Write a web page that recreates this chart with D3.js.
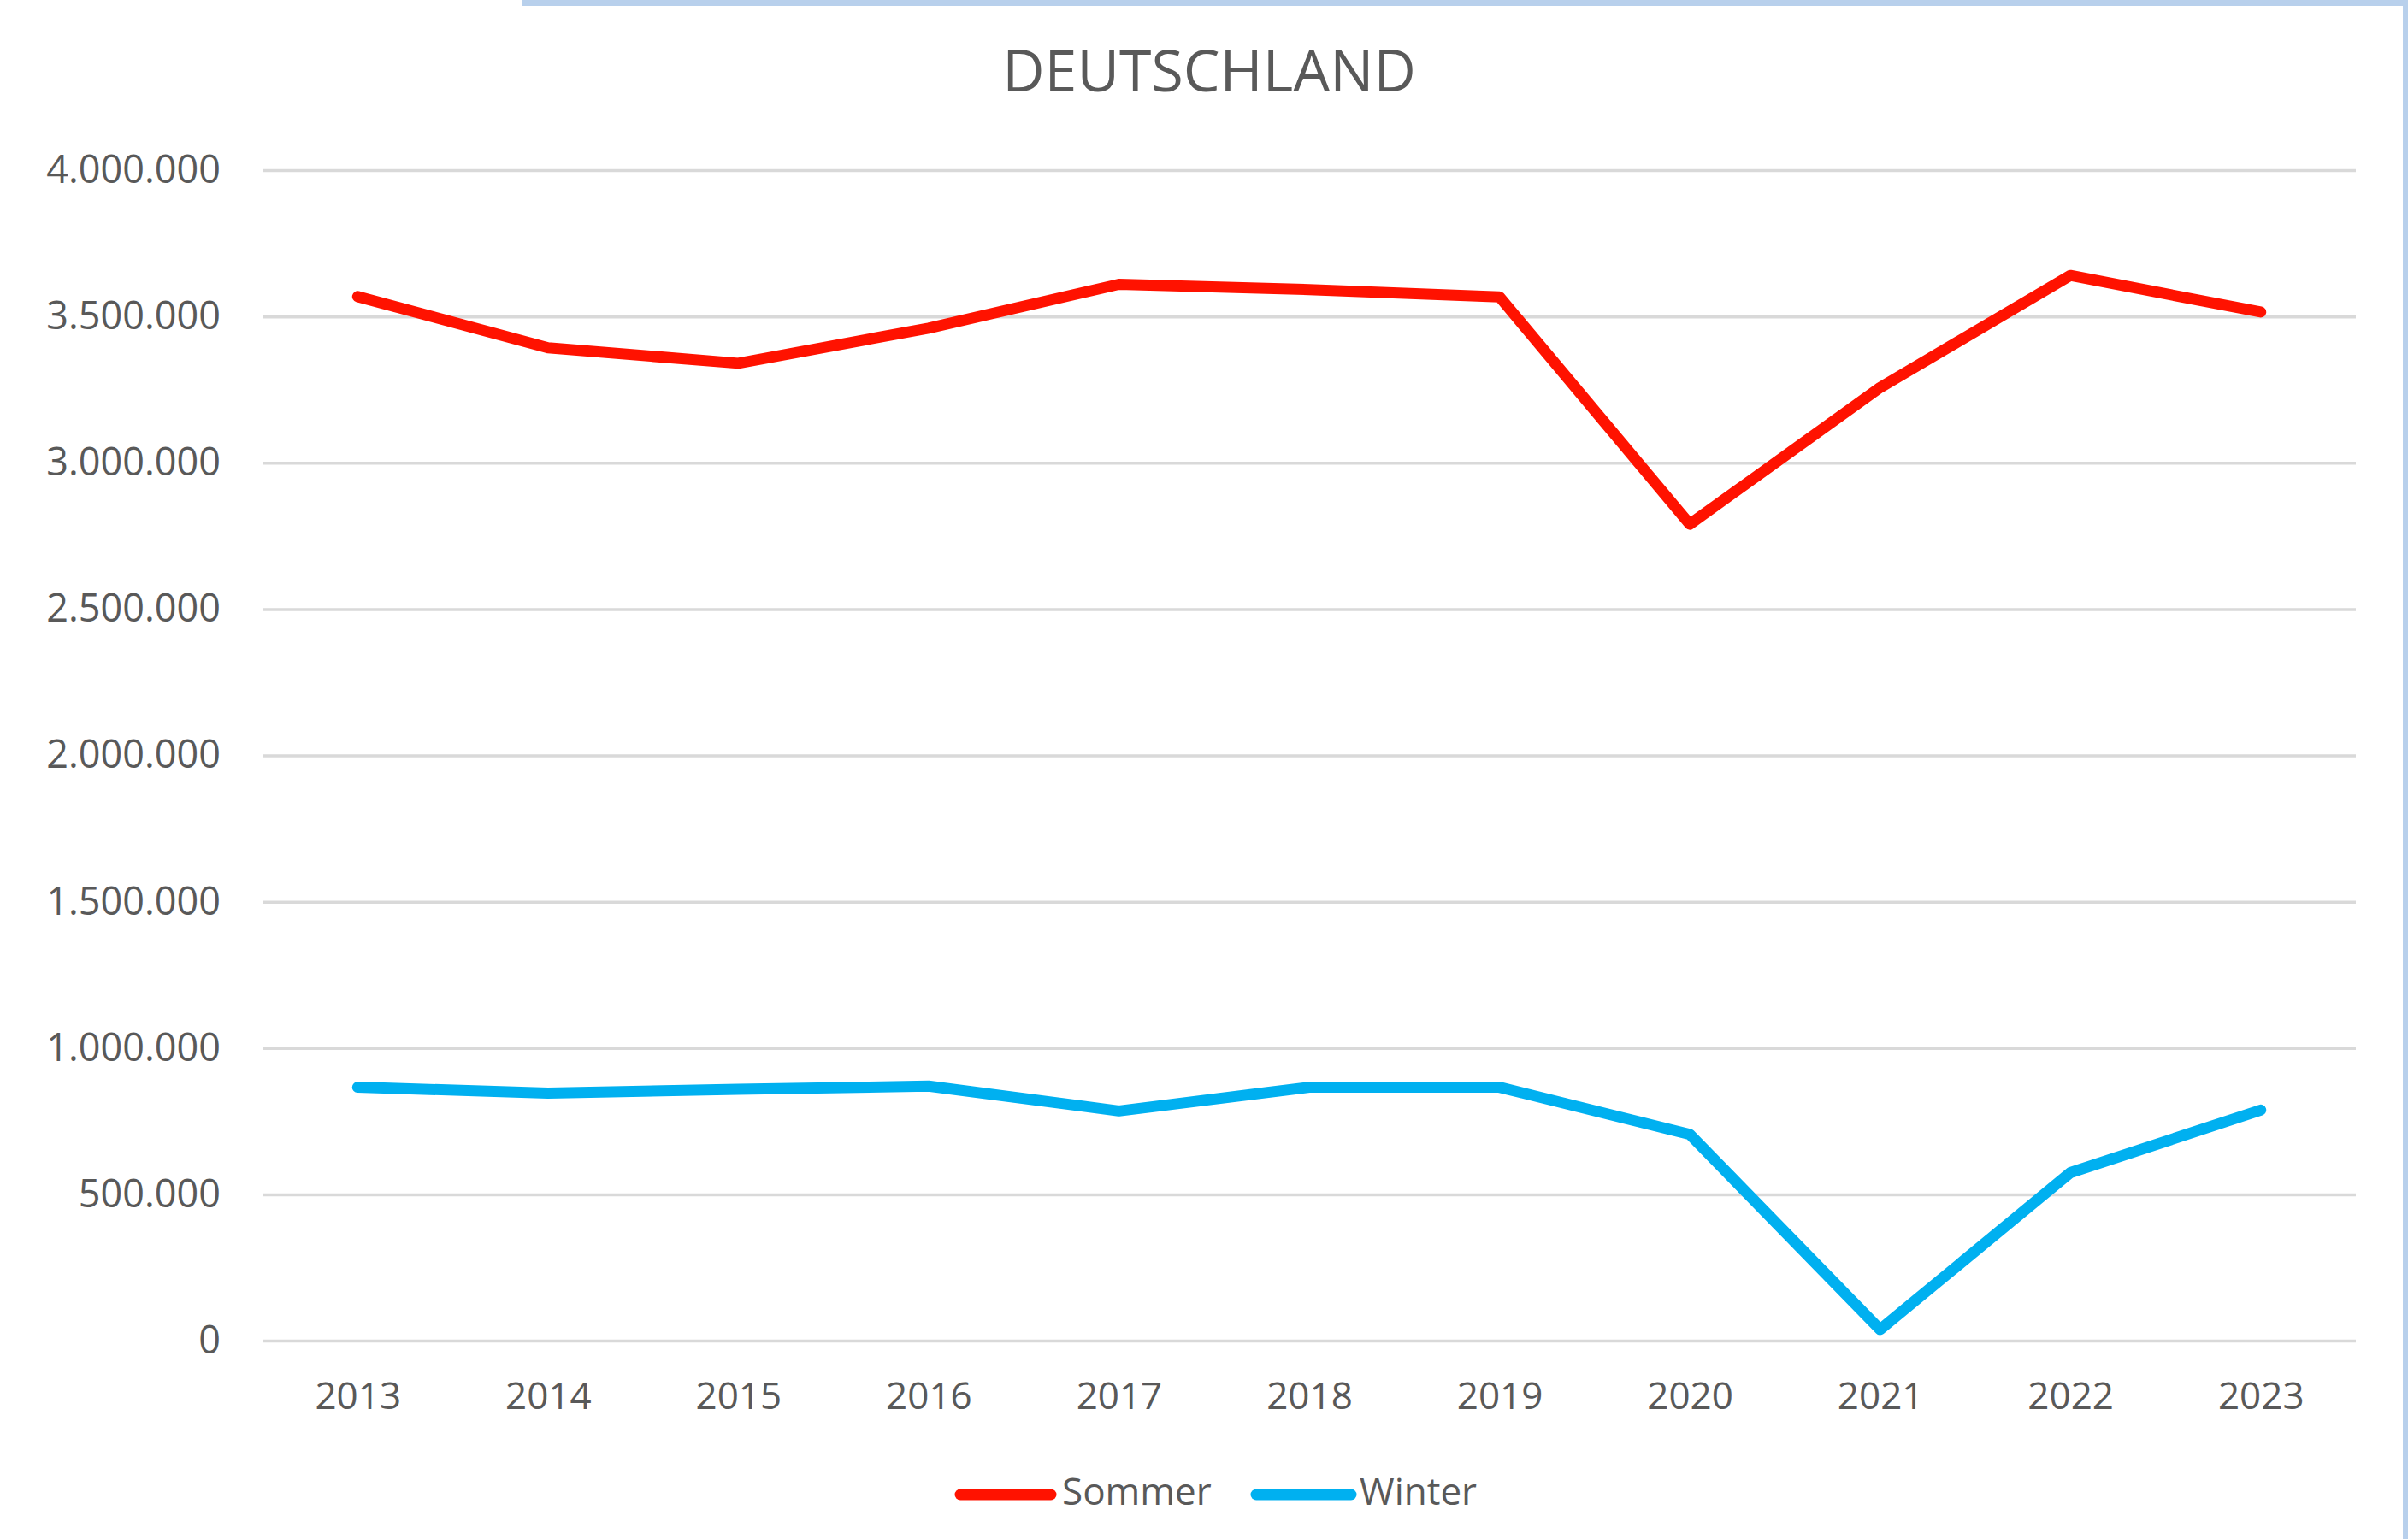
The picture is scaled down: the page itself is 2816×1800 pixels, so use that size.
<!DOCTYPE html>
<html>
<head>
<meta charset="utf-8">
<script src="https://cdn.jsdelivr.net/npm/d3@7"></script>
<style>
  html, body { margin: 0; padding: 0; background: #ffffff; }
  svg { display: block; }
  text { font-family: "Open Sans", sans-serif; fill: #595959; }
</style>
</head>
<body>
<svg id="chart" width="2816" height="1800"></svg>
<script>
// ---- data ----
const years = ["2013","2014","2015","2016","2017","2018","2019","2020","2021","2022","2023"];
const sommer = [3568000, 3393000, 3340000, 3460000, 3610000, 3592000, 3567000, 2790000, 3257000, 3640000, 3515000];
const winter = [866000, 846000, 859000, 870000, 785000, 866000, 866000, 705000, 38000, 574000, 788000];
const seriesNames = ["Sommer", "Winter"];
const seriesColors = ["#ff1200", "#00b0f0"];
const yTicks = [0, 500000, 1000000, 1500000, 2000000, 2500000, 3000000, 3500000, 4000000];
const titleText = "DEUTSCHLAND";

// ---- layout ----
const W = 2816, H = 1800;
const plotLeft = 307, plotRight = 2755, plotTop = 199, plotBottom = 1568;

const svg = d3.select("#chart");

// frame decorations (selection border)
svg.append("rect").attr("x", 610).attr("y", 0).attr("width", W - 610).attr("height", 7).attr("fill", "#b8d0ec");
svg.append("rect").attr("x", 2810).attr("y", 0).attr("width", 6).attr("height", H).attr("fill", "#b8d0ec");

const x = d3.scalePoint().domain(years).range([plotLeft, plotRight]).padding(0.5);
const y = d3.scaleLinear().domain([0, 4000000]).range([plotBottom, plotTop]);

const de = d3.formatLocale({decimal: ",", thousands: ".", grouping: [3], currency: ["", " €"]});
const fmt = de.format(",d");

// y axis with gridlines
const yAxis = svg.append("g")
  .attr("transform", `translate(${plotLeft},0)`)
  .call(d3.axisLeft(y).tickValues(yTicks).tickFormat(fmt).tickSize(-(plotRight - plotLeft)).tickPadding(49));
yAxis.select(".domain").remove();
yAxis.selectAll(".tick line").attr("stroke", "#d9d9d9").attr("stroke-width", 3.5);
yAxis.selectAll(".tick text").attr("font-size", 45).attr("font-family", "'Open Sans', sans-serif").attr("fill", "#595959");

// x axis
const xAxis = svg.append("g")
  .attr("transform", `translate(0,${plotBottom})`)
  .call(d3.axisBottom(x).tickSize(0).tickPadding(49));
xAxis.select(".domain").remove();
xAxis.selectAll(".tick text").attr("font-size", 44).attr("font-family", "'Open Sans', sans-serif").attr("fill", "#595959");

// lines
const line = d3.line().x((d, i) => x(years[i])).y(d => y(d));
[sommer, winter].forEach((vals, k) => {
  svg.append("path")
    .datum(vals)
    .attr("d", line)
    .attr("fill", "none")
    .attr("stroke", seriesColors[k])
    .attr("stroke-width", 13)
    .attr("stroke-linecap", "round")
    .attr("stroke-linejoin", "round");
});

// title
svg.append("text")
  .attr("x", 1414).attr("y", 107)
  .attr("text-anchor", "middle")
  .attr("font-size", 68)
  .text(titleText);

// legend
const legendItems = [
  {x1: 1123, x2: 1229, tx: 1242},
  {x1: 1469, x2: 1580, tx: 1590}
];
legendItems.forEach((it, k) => {
  svg.append("line")
    .attr("x1", it.x1).attr("x2", it.x2).attr("y1", 1748).attr("y2", 1748)
    .attr("stroke", seriesColors[k]).attr("stroke-width", 13).attr("stroke-linecap", "round");
  svg.append("text")
    .attr("x", it.tx).attr("y", 1760)
    .attr("font-size", 44)
    .text(seriesNames[k]);
});
</script>
</body>
</html>
